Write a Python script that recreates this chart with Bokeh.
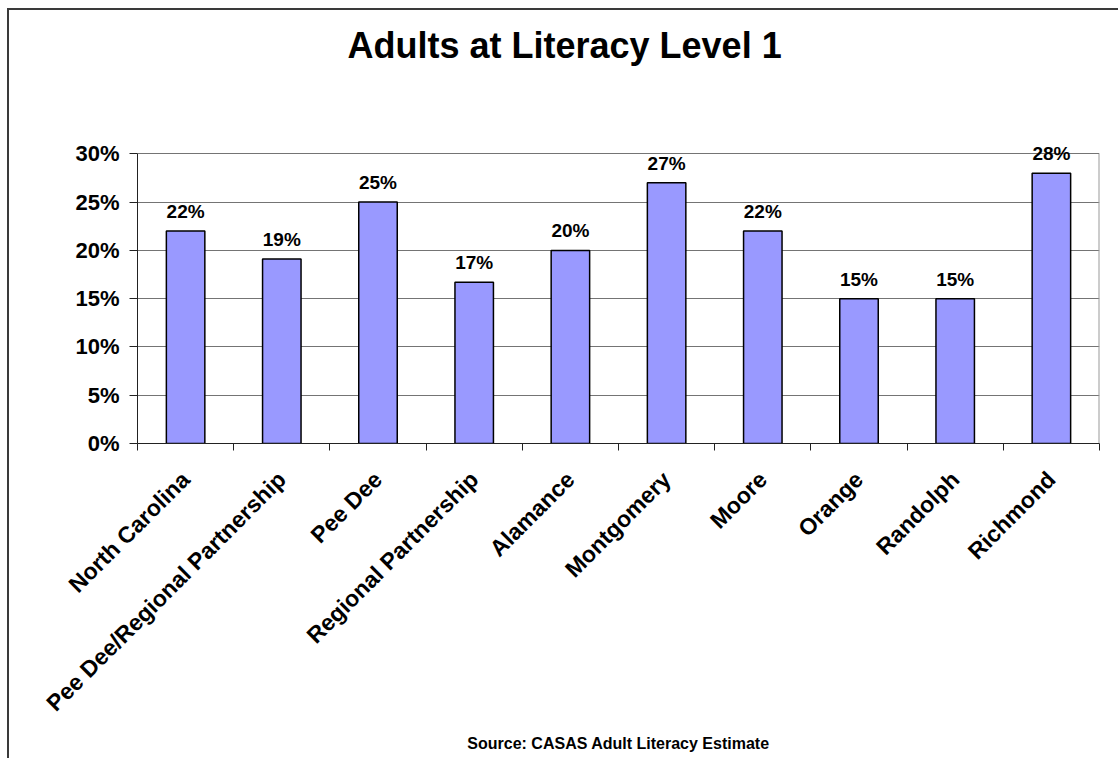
import math
from bokeh.plotting import figure
from bokeh.models import (Range1d, FixedTicker, PrintfTickFormatter, ColumnDataSource,
                          LabelSet, Title)
from bokeh.core.properties import value
from bokeh.embed import file_html
from bokeh.resources import INLINE

categories = ["North Carolina", "Pee Dee/Regional Partnership", "Pee Dee",
              "Regional Partnership", "Alamance", "Montgomery", "Moore",
              "Orange", "Randolph", "Richmond"]
values = [22, 19.1, 25, 16.7, 20, 27, 22, 15, 15, 28]
value_labels = ["22%", "19%", "25%", "17%", "20%", "27%", "22%", "15%", "15%", "28%"]
y_ticks = [0, 5, 10, 15, 20, 25, 30]
y_max = 30

FONT = "Liberation Sans"
n = len(categories)

xs = [i + 0.5 for i in range(n)]
src = ColumnDataSource(dict(x=xs, top=values, lab=value_labels))

p = figure(width=1118, height=758, output_backend="svg", toolbar_location=None,
           x_range=Range1d(0, n), y_range=Range1d(0, 32),
           min_border_left=137, min_border_right=19, min_border_top=134,
           min_border_bottom=315)
# outer border of the chart area (left + top edges) painted behind a transparent canvas
p.border_fill_color = None
p.background_fill_color = "white"
p.styles = {"vertical-align": "top",
            "background": "linear-gradient(#3a3a3a,#3a3a3a) 7px 8px / 2px 100% no-repeat, "
                          "linear-gradient(#3a3a3a,#3a3a3a) 7px 8px / 100% 2px no-repeat, #ffffff"}

p.title.text = ""
p.title.text_font_size = "1px"
p.title.standoff = 0

# spacer between title and plot area (nearest to the frame)
p.add_layout(Title(text=" ", text_font=FONT, text_font_size="10px", standoff=41), "above")
# main title
p.add_layout(Title(text="Adults at Literacy Level 1", align="left", offset=210,
                   text_font=FONT, text_font_size="36px", text_font_style="bold",
                   text_color="black", standoff=29), "above")

p.vbar(x="x", top="top", width=0.4, bottom=0, source=src,
       fill_color="#9999FF", line_color="black", line_width=1.5)

# right edge of the plot area (from 0 to 30%)
p.segment(x0=[n], y0=[0], x1=[n], y1=[y_max], line_color="#9a9a9a", line_width=2)

labels = LabelSet(x="x", y="top", text="lab", source=src, text_align="center",
                  text_baseline="alphabetic", y_offset=13, text_font=value(FONT),
                  text_font_size=value("19px"), text_font_style="bold",
                  text_color="black")
p.add_layout(labels)

# y axis
yax = p.yaxis[0]
yax.ticker = FixedTicker(ticks=y_ticks)
yax.bounds = (0, y_max)
yax.formatter = PrintfTickFormatter(format="%d%%")
yax.major_tick_out = 8
yax.major_tick_in = 0
yax.minor_tick_line_color = None
yax.axis_line_color = "#222222"
yax.major_tick_line_color = "#222222"
yax.major_label_text_font = FONT
yax.major_label_text_font_size = "22px"
yax.major_label_text_font_style = "bold"
yax.major_label_text_color = "black"
yax.major_label_standoff = 10

# x axis: labels at centers, ticks between categories
xax = p.xaxis[0]
xax.ticker = FixedTicker(ticks=xs, minor_ticks=list(range(n + 1)))
xax.major_label_overrides = {x: c for x, c in zip(xs, categories)}
xax.major_tick_line_color = None
xax.major_tick_out = 0
xax.minor_tick_out = 7
xax.minor_tick_in = 0
xax.minor_tick_line_color = "#222222"
xax.axis_line_color = "#222222"
xax.major_label_orientation = math.pi / 4
xax.major_label_text_font = FONT
xax.major_label_text_font_size = "23px"
xax.major_label_text_font_style = "bold"
xax.major_label_text_color = "black"
xax.major_label_standoff = 25

p.xgrid.grid_line_color = None
p.ygrid.ticker = FixedTicker(ticks=y_ticks)
p.ygrid.grid_line_color = "#747474"
p.ygrid.grid_line_width = 1
p.outline_line_color = None

source_title = Title(text="Source: CASAS Adult Literacy Estimate", align="center",
                     text_font=FONT, text_font_size="16px",
                     text_font_style="bold", text_color="black", standoff=8)
p.add_layout(source_title, "below")

open("out.html", "w").write(file_html(p, INLINE))
